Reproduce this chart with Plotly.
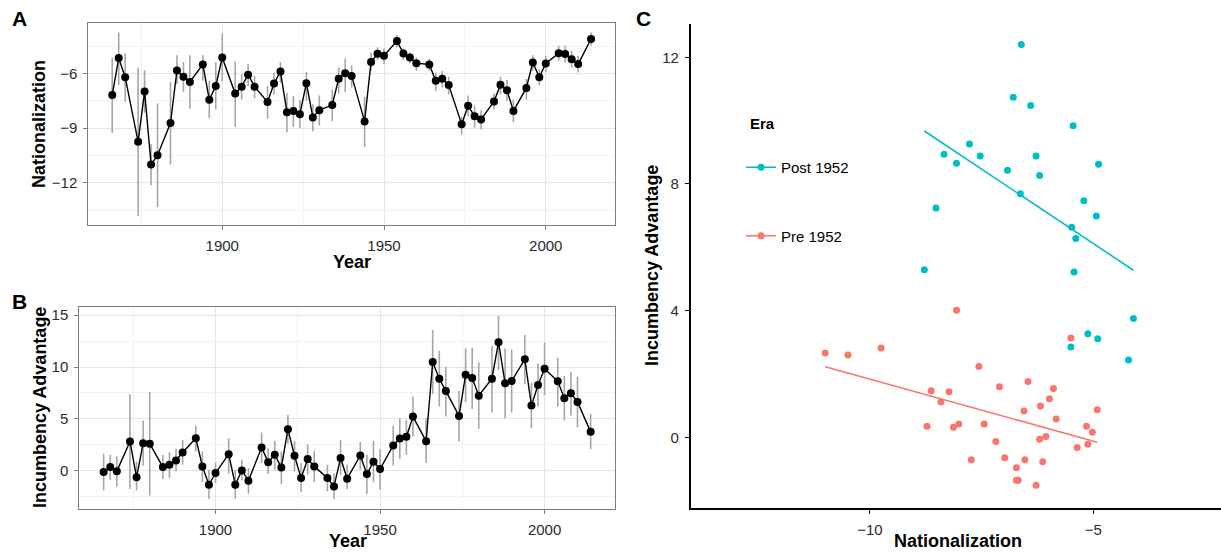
import numpy as np
import plotly.graph_objects as go

# ---------------- data ----------------
years = [1866, 1868, 1870, 1874, 1876, 1878, 1880, 1884, 1886, 1888, 1890, 1894, 1896, 1898,
         1900, 1904, 1906, 1908, 1910, 1914, 1916, 1918, 1920, 1922, 1924, 1926, 1928, 1930,
         1934, 1936, 1938, 1940, 1944, 1946, 1948, 1950,
         1954, 1956, 1958, 1960, 1964, 1966, 1968, 1970, 1974, 1976, 1978, 1980, 1984, 1986,
         1988, 1990, 1994, 1996, 1998, 2000, 2004, 2006, 2008, 2010, 2014]

nationalization = [-7.18, -5.15, -6.20, -9.75, -6.98, -11.00, -10.49, -8.72, -5.83, -6.18, -6.46, -5.50, -7.44, -6.68,
                   -5.12, -7.10, -6.72, -6.06, -6.72, -7.56, -6.55, -5.89, -8.13, -8.06, -8.23, -6.53, -8.41, -8.01,
                   -7.73, -6.28, -5.98, -6.13, -8.63, -5.36, -4.91, -5.02,
                   -4.21, -4.90, -5.12, -5.43, -5.50, -6.40, -6.28, -6.63, -8.78, -7.77, -8.34, -8.52, -7.53, -6.61,
                   -6.92, -8.06, -6.79, -5.39, -6.20, -5.45, -4.88, -4.93, -5.21, -5.48, -4.10]
nat_upper = [-5.12, -3.74, -4.88, -5.67, -5.82, -9.87, -7.65, -6.46, -4.99, -5.36, -4.99, -4.99, -6.40, -5.39,
             -3.79, -5.34, -6.04, -5.48, -6.13, -6.68, -5.94, -5.36, -7.05, -7.23, -7.47, -5.91, -7.69, -7.20,
             -6.87, -5.67, -5.17, -5.54, -7.27, -4.84, -4.56, -4.62,
             -3.88, -4.62, -4.84, -5.12, -5.17, -5.94, -5.85, -6.17, -8.38, -7.20, -7.75, -8.01, -7.09, -6.17,
             -6.35, -7.42, -6.28, -4.99, -5.76, -5.02, -4.47, -4.47, -4.75, -5.02, -3.74]
nat_lower = [-9.26, -6.63, -7.55, -13.82, -8.16, -12.14, -13.34, -11.00, -6.59, -7.01, -7.93, -6.40, -8.45, -7.97,
             -6.44, -8.93, -7.42, -6.68, -7.36, -8.48, -7.16, -6.50, -9.22, -8.94, -8.98, -7.51, -9.17, -8.85,
             -8.61, -7.09, -7.01, -6.77, -10.03, -5.85, -5.26, -5.48,
             -4.56, -5.25, -5.43, -5.85, -5.85, -6.96, -6.77, -7.14, -9.35, -8.34, -8.98, -9.07, -7.97, -7.14,
             -7.51, -8.67, -7.42, -5.85, -6.64, -5.91, -5.30, -5.39, -5.67, -5.94, -4.47]

incumbency = [-0.13, 0.35, -0.06, 2.82, -0.64, 2.66, 2.60, 0.35, 0.58, 0.99, 1.76, 3.14, 0.42, -1.35,
              -0.22, 1.60, -1.35, 0.03, -0.96, 2.24, 0.83, 1.54, 0.32, 4.01, 1.44, -0.71, 1.12, 0.42,
              -0.71, -1.51, 1.22, -0.77, 1.47, -0.32, 0.87, 0.16,
              2.44, 3.11, 3.27, 5.22, 2.85, 10.48, 8.88, 7.69, 5.29, 9.26, 8.94, 7.24, 8.88, 12.40,
              8.43, 8.65, 10.74, 6.28, 8.27, 9.84, 8.62, 6.99, 7.47, 6.63, 3.75]
inc_upper = [1.63, 1.54, 1.38, 7.37, 0.90, 4.84, 7.60, 1.54, 1.79, 2.12, 2.98, 4.33, 1.86, 0.10,
             0.80, 3.14, 0.10, 1.06, 0.26, 3.69, 2.18, 2.88, 1.86, 5.38, 2.88, 0.74, 2.56, 1.92,
             0.58, -0.22, 2.98, 0.58, 2.76, 1.54, 2.88, 2.08,
             4.33, 5.06, 4.90, 7.15, 5.06, 13.56, 11.57, 10.03, 7.69, 11.79, 11.86, 10.45, 12.02, 14.90,
             11.79, 11.70, 13.08, 8.49, 10.35, 12.34, 10.93, 9.13, 9.55, 9.07, 5.48]
inc_lower = [-1.89, -0.87, -1.51, -1.73, -1.89, 0.48, -2.40, -0.80, -0.71, -0.06, 0.58, 1.86, -1.09, -2.72,
             -1.19, -0.29, -2.72, -0.93, -2.21, 0.74, -0.32, 0.10, -1.28, 2.60, -0.06, -2.08, -0.38, -1.12,
             -1.99, -2.72, -0.38, -1.76, 0.10, -2.24, -1.12, -1.83,
             0.51, 1.12, 1.54, 3.30, 0.74, 7.40, 6.19, 5.22, 2.82, 6.60, 5.96, 4.04, 5.61, 9.71,
             5.06, 5.61, 8.33, 4.10, 6.19, 7.31, 6.19, 4.84, 5.32, 4.20, 2.08]

era_cutoff = 1952
era_names = ["Post 1952", "Pre 1952"]
era_colors = ["#00BFC4", "#F8766D"]

# ---------------- styling ----------------
FONT = "Liberation Sans, Arial, Helvetica, sans-serif"
TICK_FONT = dict(family=FONT, size=15, color="#2b2b2b")
GRID = "#e5e5e5"
MINOR = "#f2f2f2"
BORDER = "#7f7f7f"
ERR = "#a6a6a6"

W, H = 1221, 555


def px(x):
    return x / W


def py(y):
    return 1 - y / H


yrs = np.array(years)
nat = np.array(nationalization)
inc = np.array(incumbency)

fig = go.Figure()

# Panel A
fig.add_trace(go.Scatter(
    x=yrs, y=nat, mode="markers", marker=dict(size=1, opacity=0),
    error_y=dict(type="data", symmetric=False,
                 array=np.array(nat_upper) - nat, arrayminus=nat - np.array(nat_lower),
                 color=ERR, thickness=1.6, width=0),
    xaxis="x", yaxis="y", showlegend=False, hoverinfo="skip"))
fig.add_trace(go.Scatter(
    x=yrs, y=nat, mode="lines+markers",
    line=dict(color="black", width=1.4), marker=dict(color="black", size=8),
    xaxis="x", yaxis="y", showlegend=False))

# Panel B
fig.add_trace(go.Scatter(
    x=yrs, y=inc, mode="markers", marker=dict(size=1, opacity=0),
    error_y=dict(type="data", symmetric=False,
                 array=np.array(inc_upper) - inc, arrayminus=inc - np.array(inc_lower),
                 color=ERR, thickness=1.6, width=0),
    xaxis="x2", yaxis="y2", showlegend=False, hoverinfo="skip"))
fig.add_trace(go.Scatter(
    x=yrs, y=inc, mode="lines+markers",
    line=dict(color="black", width=1.4), marker=dict(color="black", size=8),
    xaxis="x2", yaxis="y2", showlegend=False))

# Panel C
masks = [yrs > era_cutoff, yrs < era_cutoff]
for name, color, m in zip(era_names, era_colors, masks):
    xs, ys = nat[m], inc[m]
    fig.add_trace(go.Scatter(x=xs, y=ys, mode="markers",
                             marker=dict(color=color, size=7),
                             xaxis="x3", yaxis="y3", showlegend=False, name=name))
    slope, icpt = np.polyfit(xs, ys, 1)
    xl = np.array([xs.min(), xs.max()])
    fig.add_trace(go.Scatter(x=xl, y=slope * xl + icpt, mode="lines",
                             line=dict(color=color, width=1.6),
                             xaxis="x3", yaxis="y3", showlegend=False, hoverinfo="skip"))
    # legend entry
    fig.add_trace(go.Scatter(x=[None], y=[None], mode="lines+markers", name=name,
                             line=dict(color=color, width=1.6), marker=dict(color=color, size=7),
                             xaxis="x3", yaxis="y3", legendgroup=name, showlegend=True))

bw_axis = dict(showline=True, mirror=True, linecolor=BORDER, linewidth=1,
               ticks="outside", ticklen=4, tickcolor=BORDER, tickwidth=1,
               tickfont=TICK_FONT, showgrid=True, gridcolor=GRID, gridwidth=1,
               zeroline=False, ticklabelstandoff=3)

fig.update_layout(
    width=W, height=H, margin=dict(l=0, r=0, t=0, b=0),
    paper_bgcolor="white", plot_bgcolor="white",
    font=dict(family=FONT),
    xaxis=dict(domain=[px(88.3), px(615)], anchor="y", range=[1858.6, 2021.4],
               tick0=1900, dtick=50, minor=dict(dtick=25, showgrid=True, gridcolor=MINOR, ticks=""),
               **bw_axis),
    yaxis=dict(domain=[py(225), py(23.3)], anchor="x", range=[-14.32, -3.24],
               tick0=0, dtick=3, minor=dict(dtick=1.5, showgrid=True, gridcolor=MINOR, ticks=""),
               **bw_axis),
    xaxis2=dict(domain=[px(79.3), px(615)], anchor="y2", range=[1858.6, 2021.4],
                tick0=1900, dtick=50, minor=dict(dtick=25, showgrid=True, gridcolor=MINOR, ticks=""),
                **bw_axis),
    yaxis2=dict(domain=[py(509), py(307.3)], anchor="x2", range=[-3.69, 15.76],
                tick0=0, dtick=5, minor=dict(dtick=2.5, showgrid=True, gridcolor=MINOR, ticks=""),
                **bw_axis),
    xaxis3=dict(domain=[px(690.7), 1.0], anchor="y3", range=[-14.01, -2.14],
                tick0=0, dtick=5, showline=True, linecolor="black", linewidth=1.6,
                ticks="outside", ticklen=4, tickcolor="black", tickfont=TICK_FONT,
                showgrid=False, zeroline=False, ticklabelstandoff=3),
    yaxis3=dict(domain=[py(508), py(24)], anchor="x3", range=[-2.23, 13.05],
                tick0=0, dtick=4, showline=True, linecolor="black", linewidth=1.6,
                ticks="outside", ticklen=4, tickcolor="black", tickfont=TICK_FONT,
                showgrid=False, zeroline=False, ticklabelstandoff=3),
    legend=dict(x=px(741), y=py(151), xanchor="left", yanchor="top",
                font=dict(family=FONT, size=15, color="black"),
                tracegroupgap=46, bgcolor="rgba(0,0,0,0)", traceorder="grouped"),
    showlegend=True,
)

ann = []


def text(x, y, s, size, bold=True, angle=0, xanchor="center", yanchor="middle"):
    ann.append(dict(x=px(x), y=py(y), xref="paper", yref="paper", text=f"<b>{s}</b>" if bold else s,
                    showarrow=False, font=dict(family=FONT, size=size, color="black"),
                    textangle=angle, xanchor=xanchor, yanchor=yanchor))


text(19, 18, "A", 21)
text(19, 301, "B", 21)
text(643, 18, "C", 21)
text(351.7, 262, "Year", 18)
text(347.5, 553, "Year", 18, yanchor="bottom")
text(958, 553, "Nationalization", 18, yanchor="bottom")
text(39, 124, "Nationalization", 18, angle=-90)
text(40, 408, "Incumbency Advantage", 18, angle=-90)
text(652, 266, "Incumbency Advantage", 18, angle=-90)
text(748, 124, "Era", 15, xanchor="left")
fig.update_layout(annotations=ann)

fig.write_html("out.html", config={"displayModeBar": False},
               post_script="document.body.style.margin='0';document.body.style.overflow='hidden';")
